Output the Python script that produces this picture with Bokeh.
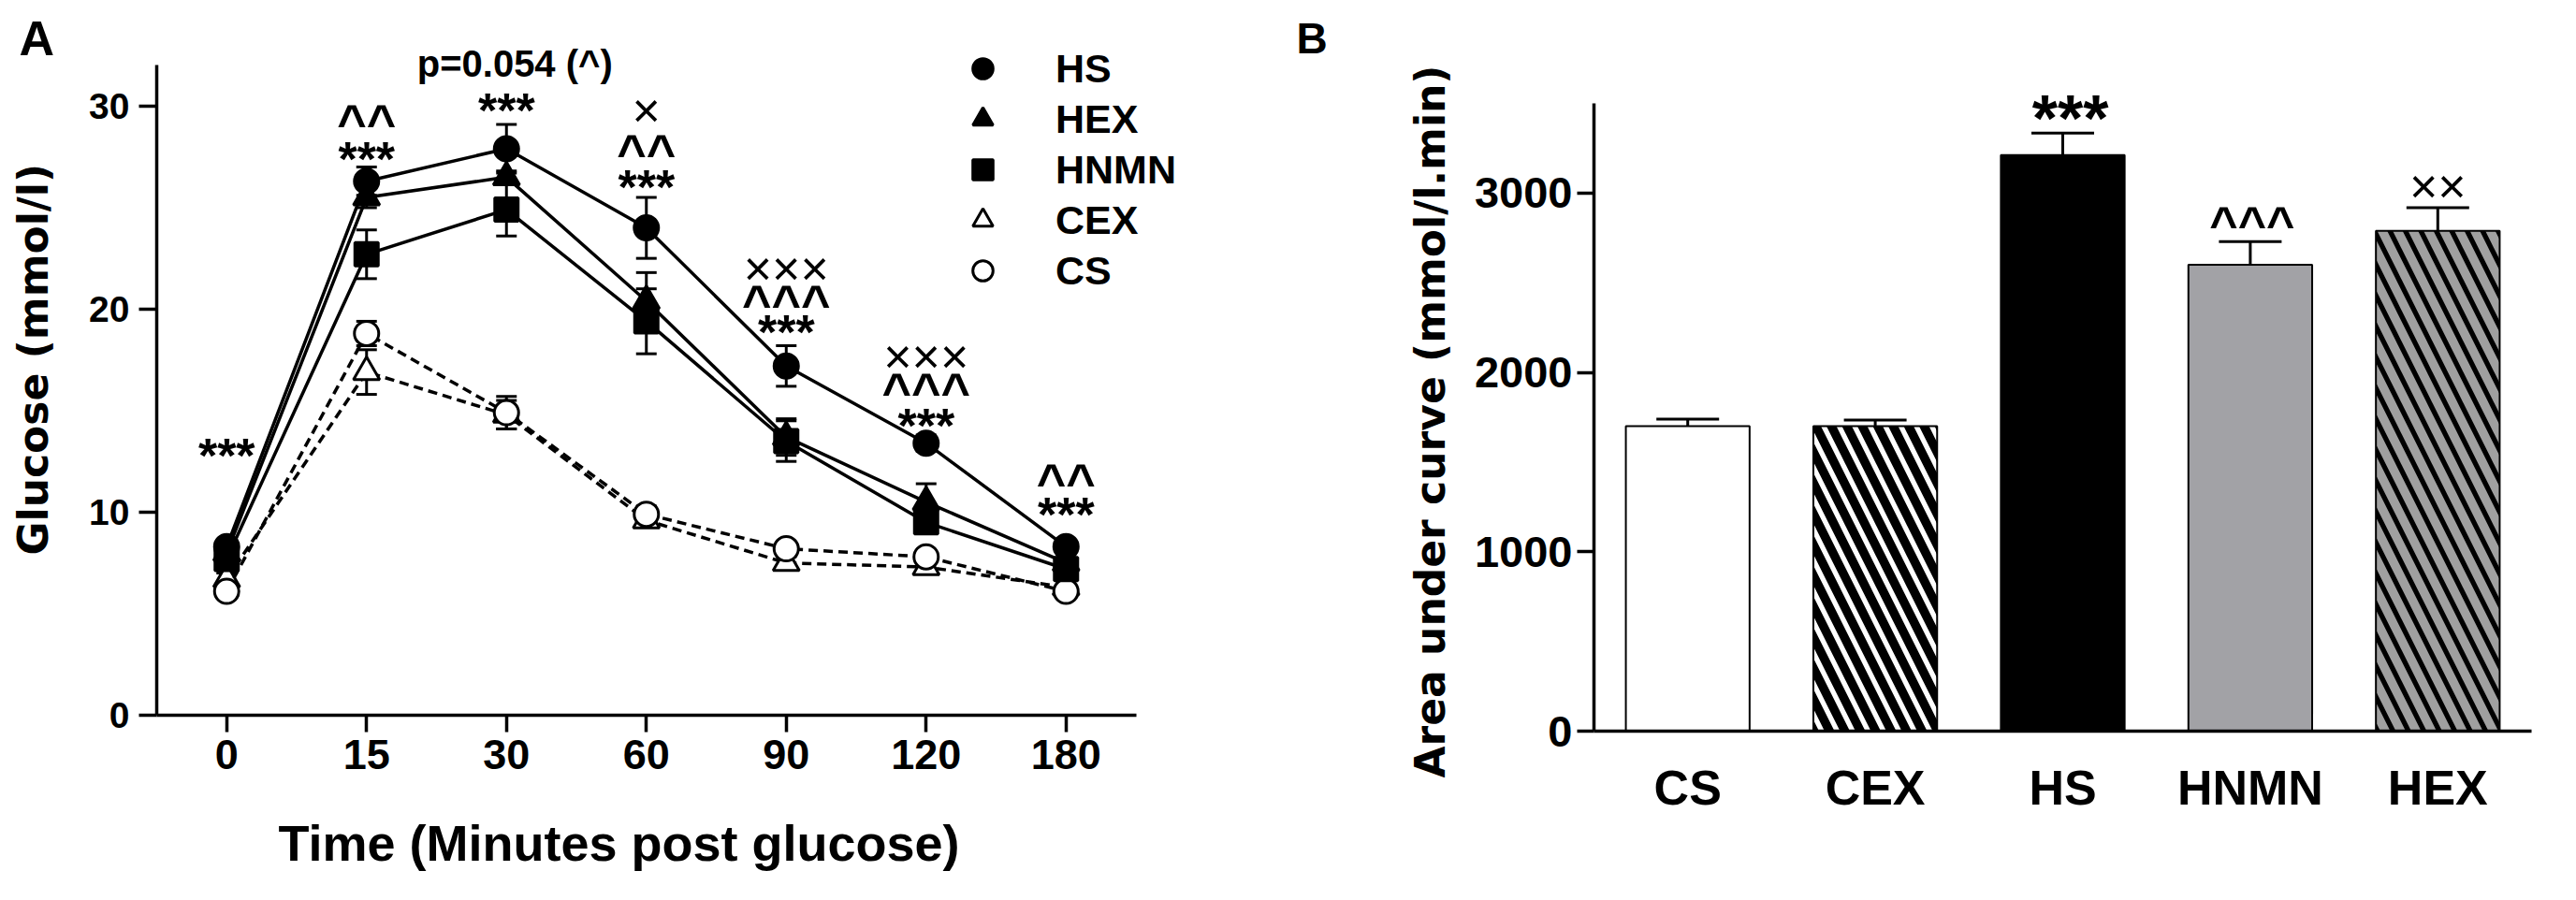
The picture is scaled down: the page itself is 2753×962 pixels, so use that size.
import math
from bokeh.plotting import figure
from bokeh.models import (ColumnDataSource, Whisker, TeeHead, Legend, LegendItem,
                          FixedTicker, Range1d)
from bokeh.layouts import row, column
from bokeh.embed import file_html
from bokeh.resources import INLINE
from bokeh.core.properties import value

FONT = "Liberation Sans"
YFONT = "DejaVu Sans"

# ---------------- data: panel A (glucose tolerance) ----------------
times = ["0", "15", "30", "60", "90", "120", "180"]
hs = [8.3, 26.3, 27.9, 24.0, 17.2, 13.4, 8.3]
hs_se = [0.3, 0.7, 1.2, 1.5, 1.0, 0.4, 0.3]
hex_ = [8.0, 25.5, 26.5, 20.4, 13.7, 10.5, 7.5]
hex_se = [0.3, 0.5, 0.3, 1.4, 0.9, 0.9, 0.4]
hnmn = [7.7, 22.7, 24.9, 19.4, 13.5, 9.5, 7.2]
hnmn_se = [0.4, 1.2, 1.3, 1.6, 1.0, 0.5, 0.5]
cex = [6.7, 16.9, 14.8, 9.6, 7.5, 7.3, 6.3]
cex_se = [0.3, 1.1, 0.7, 0.3, 0.3, 0.3, 0.3]
cs = [6.1, 18.8, 14.9, 9.9, 8.2, 7.8, 6.1]
cs_se = [0.3, 0.6, 0.8, 0.4, 0.3, 0.3, 0.3]
y_ticks_a = [0, 10, 20, 30]

# significance marks, panel A (x index, y position, text)
star_x = [0, 1, 2, 3, 4, 5, 6]
star_y = [12.8, 27.4, 29.8, 26.0, 18.85, 14.25, 9.87]
star_t = ["***"] * 7
caret_x = [1, 3, 4, 5, 6]
caret_y = [29.2, 27.7, 20.3, 15.95, 11.5]
caret_t = ["^^", "^^", "^^^", "^^^", "^^"]
cross_x = [3, 4, 5]
cross_y = [29.8, 22.0, 17.66]
cross_t = ["×", "×××", "×××"]
pval_x, pval_y, pval_t = [2.06], [32.1], ["p=0.054 (^)"]

# ---------------- data: panel B (AUC) ----------------
groups = ["CS", "CEX", "HS", "HNMN", "HEX"]
auc = [1700, 1700, 3212, 2600, 2790]
auc_se = [40, 35, 122, 130, 128]
y_ticks_b = [0, 1000, 2000, 3000]
star2_x, star2_y, star2_t = [2.04], [3416], ["***"]
caret2_x, caret2_y, caret2_t = [3.01], [2830], ["^^^"]
cross2_x, cross2_y, cross2_t = [4.0], [3038], ["××"]


def style_axes(p, xfs, yfs):
    for ax in (p.xaxis, p.yaxis):
        ax.axis_line_width = 3.5
        ax.axis_line_color = "black"
        ax.major_tick_line_width = 3.5
        ax.major_tick_line_color = "black"
        ax.minor_tick_line_color = None
        ax.major_tick_in = 0
        ax.major_label_text_font = FONT
        ax.major_label_text_font_style = "bold"
        ax.major_label_text_color = "black"
    p.xaxis.major_label_text_font_size = xfs
    p.yaxis.major_label_text_font_size = yfs
    p.xgrid.grid_line_color = None
    p.ygrid.grid_line_color = None
    p.outline_line_color = None
    p.background_fill_color = "white"
    p.border_fill_color = "white"


def add_marks(p, xs, ys, ts, size, bold, font=FONT):
    p.text(x=xs, y=ys, text=ts, text_font=value(font), text_font_size=f"{size}px",
           text_font_style="bold" if bold else "normal", text_color="black",
           text_align="center", text_baseline="middle")


def strip(w, h):
    # a blank panel whose data units are its own pixels (y grows downward)
    s = figure(width=w, height=h, output_backend="svg", toolbar_location=None,
               x_range=Range1d(0, w), y_range=Range1d(h, 0),
               x_axis_type=None, y_axis_type=None, min_border=0, frame_align=False)
    s.outline_line_color = None
    s.background_fill_color = "white"
    s.border_fill_color = "white"
    return s


def strip_text(s, x, y, text, size, font=FONT, angle=0.0):
    # anchored at the start of the text, on its baseline
    s.text(x=[x], y=[y], text=[text], text_font=value(font), text_font_size=f"{size}px",
           text_font_style="bold", text_color="black", text_align="left",
           text_baseline="alphabetic", angle=angle)


# ================= Panel A =================
idx = list(range(len(times)))
p1 = figure(width=1292, height=856, output_backend="svg", toolbar_location=None,
            x_range=Range1d(-0.5, 7.56), y_range=Range1d(0, 35.2),
            min_border_left=77, min_border_right=10, min_border_top=0,
            min_border_bottom=92, frame_align=False)
style_axes(p1, "45px", "39px")
p1.xaxis.ticker = FixedTicker(ticks=idx)
p1.xaxis.major_label_overrides = {i: t for i, t in enumerate(times)}
p1.xaxis.major_tick_out = 18
p1.xaxis.major_label_standoff = 8
p1.xaxis.bounds = (-0.5, 6.5)
p1.yaxis.ticker = FixedTicker(ticks=y_ticks_a)
p1.yaxis.major_tick_out = 19
p1.yaxis.major_label_standoff = 10
p1.yaxis.bounds = (0, 32)

series = [
    ("CEX", cex, cex_se, "triangle", 28, "white", True),
    ("CS", cs, cs_se, "circle", 26, "white", True),
    ("HNMN", hnmn, hnmn_se, "square", 25, "black", False),
    ("HEX", hex_, hex_se, "triangle", 28, "black", False),
    ("HS", hs, hs_se, "circle", 26, "black", False),
]
rend = {}
for name, vals, se, marker, size, fill, dashed in series:
    src = ColumnDataSource(dict(base=idx, upper=[v + e for v, e in zip(vals, se)],
                                lower=[v - e for v, e in zip(vals, se)]))
    p1.add_layout(Whisker(base="base", upper="upper", lower="lower", source=src,
                          level="underlay", line_width=3, line_color="black",
                          upper_head=TeeHead(size=22, line_width=3, line_color="black"),
                          lower_head=TeeHead(size=22, line_width=3, line_color="black")))
    p1.line(idx, vals, line_width=3.5, line_color="black",
            line_dash="10 6" if dashed else "solid")
    rend[name] = p1.scatter(idx, vals, marker=marker, size=size, fill_color=fill,
                            line_color="black", line_width=3)

legend = Legend(items=[LegendItem(label=n, renderers=[rend[n]])
                       for n in ["HS", "HEX", "HNMN", "CEX", "CS"]],
                location=(856, 448), glyph_width=54, glyph_height=54, spacing=0,
                padding=0, margin=0, label_standoff=51, label_text_font=FONT,
                label_text_font_style="bold", label_text_font_size="43px",
                label_text_color="black", border_line_color=None,
                background_fill_alpha=0)
p1.add_layout(legend)

add_marks(p1, star_x, star_y, star_t, 52, True)
add_marks(p1, caret_x, caret_y, caret_t, 54, True)
add_marks(p1, cross_x, cross_y, cross_t, 52, False)
add_marks(p1, pval_x, pval_y, pval_t, 40, True)

sA = strip(90, 946)
strip_text(sA, 20, 40, "A", 52)
strip_text(sA, 35, 593, "Glucose (mmol/l)", 44, font=YFONT, angle=math.pi / 2)

xl = strip(1292, 90)
strip_text(xl, 207, 44, "Time  (Minutes post glucose)", 54)

# ================= Panel B =================
gidx = list(range(len(groups)))
p2 = figure(width=1165, height=946, output_backend="svg", toolbar_location=None,
            x_range=Range1d(-0.5, 4.5), y_range=Range1d(0, 4074),
            min_border_left=128, min_border_right=32, min_border_top=0,
            min_border_bottom=165, frame_align=False)
style_axes(p2, "52px", "47px")
p2.xaxis.ticker = FixedTicker(ticks=gidx)
p2.xaxis.major_label_overrides = {i: g for i, g in enumerate(groups)}
p2.xaxis.major_tick_out = 0
p2.xaxis.major_label_standoff = 31
p2.yaxis.ticker = FixedTicker(ticks=y_ticks_b)
p2.yaxis.major_tick_out = 18
p2.yaxis.major_label_standoff = 5
p2.yaxis.bounds = (0, 3500)

bar_src = ColumnDataSource(dict(
    x=gidx, top=auc,
    fill=["white", "white", "black", "#a2a2a6", "black"],
    hatch=[" ", "left_diagonal_line", " ", " ", "left_diagonal_line"],
    hcolor=["black", "black", "black", "black", "#a0a0a0"],
))
err_src = ColumnDataSource(dict(base=gidx, lower=auc,
                                upper=[v + e for v, e in zip(auc, auc_se)]))
p2.add_layout(Whisker(base="base", upper="upper", lower="lower", source=err_src,
                      level="underlay", line_width=3, line_color="black",
                      upper_head=TeeHead(size=67, line_width=3, line_color="black"),
                      lower_head=None))
p2.vbar(x="x", top="top", width=0.66, bottom=0, source=bar_src, fill_color="fill",
        line_color="black", line_width=2, hatch_pattern="hatch", hatch_color="hcolor",
        hatch_scale=33, hatch_weight=9.5)

add_marks(p2, star2_x, star2_y, star2_t, 70, True)
add_marks(p2, caret2_x, caret2_y, caret2_t, 52, True)
add_marks(p2, cross2_x, cross2_y, cross2_t, 52, False)

sB = strip(190, 946)
strip_text(sB, 3, 40, "B", 46)
strip_text(sB, 146, 831, "Area under curve (mmol/l.min)", 44, font=YFONT,
           angle=math.pi / 2)

layout = row(sA, column(p1, xl), sB, p2)
open("out.html", "w").write(file_html(layout, INLINE))
